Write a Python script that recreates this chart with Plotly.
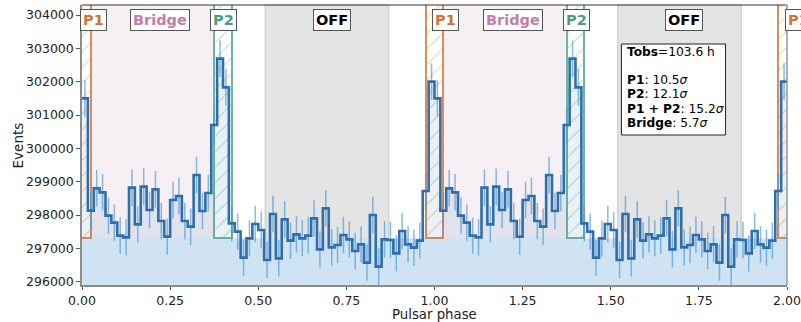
import numpy as np
import plotly.graph_objects as go

# ---------------- data ----------------
n_bins = 60  # bins per pulsar period
counts_period = [
    301500, 298130, 298800, 298680, 297980, 297770, 297380, 297330, 298820, 297720,
    298850, 298150, 298770, 297820, 297350, 298450, 298570, 297820, 297650, 299200,
    298120, 298660, 300700, 302690, 301830, 297750, 297500, 296720, 297300, 297730,
    297550, 296650, 298030, 296700, 297870, 297230, 297420, 297300, 297380, 297900,
    296970, 298200, 297030, 297100, 297400, 297270, 296920, 297120, 296570, 298000,
    296450, 297270, 297250, 296850, 297520, 297120, 297020, 297230, 298720, 302000,
]
background_level = 297300
p1_region = (-0.025, 0.025)
p2_region = (0.375, 0.425)
bridge_region = (0.025, 0.375)
off_region = (0.52, 0.87)
n_periods = 2

label_texts = ["P1", "Bridge", "P2", "OFF"]
label_phase = [0.032, 0.2217, 0.402, 0.7086]   # label centres in phase (first period)
label_colors = ["#d0732f", "#c47ca8", "#4a9e7c", "#000000"]

info_lines = [
    "<b>Tobs</b>=103.6 h",
    "<b>P1</b>: 10.5<i>σ</i>",
    "<b>P2</b>: 12.1<i>σ</i>",
    "<b>P1 + P2</b>: 15.2<i>σ</i>",
    "<b>Bridge</b>: 5.7<i>σ</i>",
]
info_y_px = [52.0, 80.0, 94.0, 108.5, 123.0]

y_ticks = [296000, 297000, 298000, 299000, 300000, 301000, 302000, 303000, 304000]
x_ticks = [0.0, 0.25, 0.5, 0.75, 1.0, 1.25, 1.5, 1.75, 2.0]
x_ticktext = ["0.00", "0.25", "0.50", "0.75", "1.00", "1.25", "1.50", "1.75", "2.00"]

# ---------------- derived ----------------
counts = np.tile(np.array(counts_period, dtype=float), n_periods)
nb = len(counts)
edges = np.arange(nb + 1) / n_bins
centers = (edges[:-1] + edges[1:]) / 2
errors = np.sqrt(counts)

def h(x):
    i = int(np.floor(x * n_bins + 1e-9))
    return counts[min(max(i, 0), nb - 1)]

def region_poly(a, b):
    xs = [a, a]
    ys = [background_level, h(a + 1e-6)]
    for e in edges:
        if a + 1e-9 < e < b - 1e-9:
            xs += [e, e]
            ys += [h(e - 1e-6), h(e + 1e-6)]
    xs += [b, b]
    ys += [h(b - 1e-6), background_level]
    return xs, ys

XMAX = n_periods * 1.0
fx, fy = [], []
for p in range(n_periods + 1):
    a = max(0.0, p + p1_region[0])
    b = min(XMAX, p + p2_region[1])
    if b - a > 1e-6:
        xs, ys = region_poly(a, b)
        fx += xs + [None]
        fy += ys + [None]

fig = go.Figure()

# filled area under the histogram in the on-pulse regions
fig.add_trace(go.Scatter(x=fx, y=fy, mode="lines", fill="toself",
                         fillcolor="rgba(31,119,180,0.10)", line=dict(width=0),
                         hoverinfo="skip", showlegend=False))

# hatched P1 / P2 boxes
ytop = 320000
def box_trace(centers_, width, color, hatch):
    return go.Bar(x=centers_, y=[ytop - background_level] * len(centers_),
                  base=background_level, width=width,
                  marker=dict(color="rgba(255,255,255,0)",
                              line=dict(color=color, width=2),
                              pattern=dict(shape="/", fgcolor=hatch, bgcolor="rgba(255,255,255,0)",
                                           size=11, solidity=0.1)),
                  showlegend=False, hoverinfo="skip")

p1_c = [p + (p1_region[0] + p1_region[1]) / 2 for p in range(n_periods + 1)]
p2_c = [p + (p2_region[0] + p2_region[1]) / 2 for p in range(n_periods)]
fig.add_trace(box_trace(p1_c, p1_region[1] - p1_region[0], "#dc8c58", "#e09a6c"))
fig.add_trace(box_trace(p2_c, p2_region[1] - p2_region[0], "#6bb79a", "#7cc2a6"))

# error bars
fig.add_trace(go.Scatter(x=centers, y=counts, mode="markers",
                         marker=dict(size=0.1, color="rgba(0,0,0,0)"),
                         error_y=dict(type="data", array=errors, visible=True,
                                      color="rgba(70,150,215,0.65)", thickness=1.5, width=0),
                         showlegend=False, hoverinfo="skip"))

# histogram step line
sx = list(edges)
sy = list(counts) + [counts[-1]]
fig.add_trace(go.Scatter(x=sx, y=sy, mode="lines", line=dict(color="#2f6eaa", width=2.6, shape="hv"),
                         showlegend=False, hoverinfo="skip"))

shapes = []
for p in range(n_periods):
    shapes.append(dict(type="rect", xref="x", yref="paper", x0=p + off_region[0], x1=p + off_region[1],
                       y0=0, y1=1, fillcolor="#e4e4e4", line=dict(color="#d3d3d3", width=1.5), layer="below"))
    shapes.append(dict(type="rect", xref="x", yref="paper", x0=p + bridge_region[0], x1=p + bridge_region[1],
                       y0=0, y1=1, fillcolor="#f6eff4", line=dict(width=0), layer="below"))
# background band
shapes.append(dict(type="rect", xref="paper", yref="y", x0=0, x1=1, y0=290000, y1=background_level,
                   fillcolor="#d0e3f3", line=dict(width=0), layer="below"))
# spines
shapes.append(dict(type="line", xref="paper", yref="paper", x0=0, x1=1, y0=1, y1=1,
                   line=dict(color="#333333", width=1)))
shapes.append(dict(type="line", xref="paper", yref="paper", x0=1, x1=1, y0=0, y1=1,
                   line=dict(color="#999999", width=1.5)))

# info box
px0, px1, pw = 81.67, 787.5, 705.83
py0, py1, ph = 5.0, 285.0, 280.0
def pxx(v):
    return (v - px0) / pw
def pyy(v):
    return (py1 - v) / ph
shapes.append(dict(type="rect", xref="paper", yref="paper", x0=pxx(621.7), x1=pxx(726.0),
                   y0=pyy(135.0), y1=pyy(44.0), fillcolor="white", line=dict(color="#222222", width=1)))

annotations = []
for p in range(n_periods + 1):
    for t, ph_, c in zip(label_texts, label_phase, label_colors):
        xx = p + ph_
        if xx > XMAX + 0.05:
            continue
        annotations.append(dict(xref="paper", yref="paper", x=xx / XMAX, y=pyy(20.0),
                                text="<b>%s</b>" % t, showarrow=False,
                                font=dict(family="DejaVu Sans", size=14.5, color=c),
                                bgcolor="white", bordercolor="#555555", borderwidth=1, borderpad=2,
                                xanchor="center", yanchor="middle"))
for t, yy in zip(info_lines, info_y_px):
    annotations.append(dict(xref="paper", yref="paper", x=pxx(626.5), y=pyy(yy), text=t, showarrow=False,
                            font=dict(family="DejaVu Sans", size=12.2, color="black"),
                            xanchor="left", yanchor="middle", borderpad=0))
# axis titles
annotations.append(dict(xref="paper", yref="paper", x=0.5, y=pyy(314.8), text="Pulsar phase",
                        showarrow=False, font=dict(family="DejaVu Sans", size=13.3, color="#222222"),
                        xanchor="center", yanchor="middle", borderpad=0))
annotations.append(dict(xref="paper", yref="paper", x=pxx(18.0), y=0.5, text="Events", textangle=-90,
                        showarrow=False, font=dict(family="DejaVu Sans", size=13.5, color="#222222"),
                        xanchor="center", yanchor="middle", borderpad=0))

fig.update_layout(
    width=801, height=322,
    margin=dict(l=82, r=14, t=5, b=37),
    paper_bgcolor="white", plot_bgcolor="white",
    font=dict(family="DejaVu Sans", size=12.5, color="#222222"),
    shapes=shapes, annotations=annotations,
    bargap=0, barmode="overlay",
    xaxis=dict(range=[0, XMAX], tickvals=x_ticks, ticktext=x_ticktext, showgrid=False, zeroline=False,
               showline=True, linecolor="#8c8c8c", linewidth=1.5, ticks="outside", ticklen=3,
               tickcolor="#555555", automargin=False),
    yaxis=dict(range=[295900, 304300], tickvals=y_ticks, tickformat="d", showgrid=False, zeroline=False,
               showline=True, linecolor="#8c8c8c", linewidth=1.5, ticks="outside", ticklen=4,
               tickcolor="#555555", automargin=False),
)

fig.write_html("out.html")
